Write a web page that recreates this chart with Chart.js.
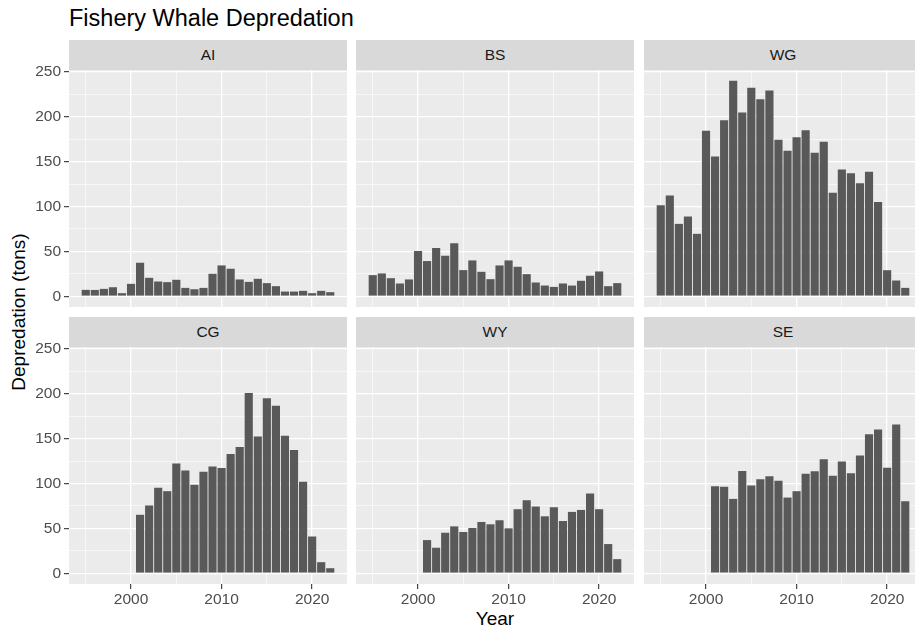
<!DOCTYPE html>
<html lang="en">
<head>
    <meta charset="UTF-8">
    <title>Fishery Whale Depredation</title>
    <script src="https://cdn.jsdelivr.net/npm/chart.js"></script>
    <style>
        body {
            margin: 0;
            width: 915px;
            height: 630px;
            overflow: hidden;
            position: relative;
            background: #fff;
            font-family: "Liberation Sans", Arial, sans-serif;
        }
        canvas {
            position: absolute;
        }
        .strip {
            position: absolute;
            height: 30px;
            line-height: 30px;
            background: #D9D9D9;
            color: #1A1A1A;
            font-size: 15.5px;
            text-align: center;
        }
        #title {
            position: absolute;
            left: 69px;
            top: 7px;
            font-size: 23.5px;
            line-height: 1;
            color: #000;
        }
        #xtitle {
            position: absolute;
            left: 495px;
            top: 609px;
            transform: translateX(-50%);
            font-size: 19px;
            line-height: 1;
            color: #000;
        }
        #ytitle {
            position: absolute;
            left: 18px;
            top: 312px;
            transform: translate(-50%, -50%) rotate(-90deg);
            font-size: 19px;
            line-height: 1;
            white-space: nowrap;
            color: #000;
        }
    </style>
</head>
<body>
    <div id="title">Fishery Whale Depredation</div>
    <div id="xtitle">Year</div>
    <div id="ytitle">Depredation (tons)</div>

    <script>
        // Years on the x axis
        const years = [1995, 1996, 1997, 1998, 1999, 2000, 2001, 2002, 2003, 2004,
                       2005, 2006, 2007, 2008, 2009, 2010, 2011, 2012, 2013, 2014,
                       2015, 2016, 2017, 2018, 2019, 2020, 2021, 2022];

        // Depredation (tons) per area, one value per year (null = no data)
        const ai = [7.1, 7, 8.2, 10, 3.4, 13.8, 37.3, 20.5, 16.4, 15.7, 18.3, 9.3, 7.8, 9.3,
                    25, 34.3, 30.6, 18.7, 16, 19.4, 14.6, 11.2, 5.2, 5.2, 6, 3.4, 6, 4.5];
        const bs = [23.5, 25.4, 20.1, 14.2, 18.7, 50.4, 39.2, 53.7, 45.1, 59, 29.1, 39.9, 27.2, 19,
                    34.3, 39.9, 32.8, 24.6, 15.3, 11.9, 10.4, 14.2, 11.9, 17.2, 22.8, 27.6, 11.2, 14.6];
        const wg = [101.4, 112.2, 80.6, 88.8, 69.5, 184.2, 155.6, 196.1, 240, 204.7, 232.2, 219.5, 229.2, 174.2,
                    162, 177.2, 185, 159.7, 172, 115.2, 141.2, 137.1, 125.9, 138.6, 105.1, 29, 17.5, 9.3];
        const cg = [null, null, null, null, null, null, 65.1, 75.5, 95.2, 91.4, 122.3, 114.5, 98.5, 113,
                    119, 117.1, 132.7, 140.5, 200.7, 152.4, 194.8, 186.6, 153.2, 137.2, 101.9, 40.9, 12.3, 5.6];
        const wy = [null, null, null, null, null, null, 36.9, 28.4, 45.1, 52.2, 45.9, 50.4, 57.1, 54.5,
                    59, 50, 71.3, 81.3, 74.3, 63.4, 73.5, 58.2, 68.3, 70.5, 88.8, 71.3, 32.5, 15.7];
        const se = [null, null, null, null, null, null, 97, 96.2, 82.8, 114, 97.7, 104.8, 108.1, 102.9,
                    84.3, 91.4, 110.7, 113.7, 127, 108.5, 124.4, 111.4, 131.1, 154.9, 160.1, 117.4, 165.7, 80.2];

        const panelNames = ['AI', 'BS', 'WG', 'CG', 'WY', 'SE'];
        const panelData = [ai, bs, wg, cg, wy, se];

        // Tick values (major ones get labels)
        const xTicks = [1995, 2000, 2005, 2010, 2015, 2020];
        const yTicks = [0, 25, 50, 75, 100, 125, 150, 175, 200, 225, 250];

        // Layout of the facet grid
        const panelX = [69, 356, 644];
        const panelY = [70, 347];
        const panelW = 278;
        const panelH = 237;
        const stripH = 30;
        const yAxisW = 69;
        const xAxisH = 34;
        const pad = 14;

        Chart.defaults.font.family = '"Liberation Sans", Arial, sans-serif';
        Chart.defaults.font.size = 15.5;

        // grey panel background
        const panelBg = {
            id: 'panelBg',
            beforeDraw(chart) {
                const { ctx, chartArea: a } = chart;
                ctx.save();
                ctx.fillStyle = '#EBEBEB';
                ctx.fillRect(a.left, a.top, a.width, a.height);
                ctx.restore();
            }
        };

        panelNames.forEach((name, i) => {
            const col = i % 3;
            const row = Math.floor(i / 3);
            const showY = col === 0;
            const showX = row === 1;
            const yw = showY ? yAxisW : 0;
            const xh = showX ? xAxisH : 0;

            // strip label
            const strip = document.createElement('div');
            strip.className = 'strip';
            strip.style.left = panelX[col] + 'px';
            strip.style.top = (panelY[row] - stripH) + 'px';
            strip.style.width = panelW + 'px';
            strip.textContent = name;
            document.body.appendChild(strip);

            const canvas = document.createElement('canvas');
            const w = yw + panelW;
            const h = pad + panelH + xh + (showX ? 0 : pad);
            canvas.width = w;
            canvas.height = h;
            canvas.style.width = w + 'px';
            canvas.style.height = h + 'px';
            canvas.style.left = (panelX[col] - yw) + 'px';
            canvas.style.top = (panelY[row] - pad) + 'px';
            document.body.appendChild(canvas);

            const values = panelData[i];

            new Chart(canvas.getContext('2d'), {
                type: 'bar',
                data: {
                    datasets: [{
                        data: years.map((y, k) => ({ x: y, y: values[k] })),
                        backgroundColor: '#595959',
                        borderWidth: 0,
                        barPercentage: 0.9,
                        categoryPercentage: 1.0
                    }]
                },
                options: {
                    responsive: false,
                    animation: false,
                    devicePixelRatio: 1,
                    layout: { padding: { top: pad, bottom: showX ? 0 : pad, left: 0, right: 0 } },
                    plugins: {
                        legend: { display: false },
                        tooltip: { enabled: false }
                    },
                    scales: {
                        x: {
                            type: 'linear',
                            min: 1993.15,
                            max: 2023.85,
                            offset: false,
                            afterBuildTicks: s => { s.ticks = xTicks.map(v => ({ value: v })); },
                            afterFit: s => { s.height = xh; },
                            border: { display: false },
                            grid: {
                                offset: false,
                                color: '#FFFFFF',
                                lineWidth: c => (c.tick && c.tick.value % 10 === 0) ? 1.3 : 0.6,
                                drawTicks: showX,
                                tickLength: 5,
                                tickWidth: 1.1,
                                tickColor: c => (c.tick && c.tick.value % 10 === 0) ? '#333333' : 'rgba(0,0,0,0)'
                            },
                            ticks: {
                                display: showX,
                                autoSkip: false,
                                maxRotation: 0,
                                minRotation: 0,
                                padding: 1,
                                color: '#4D4D4D',
                                callback: v => (v % 10 === 0 ? String(v) : '')
                            }
                        },
                        y: {
                            min: -12,
                            max: 252,
                            afterBuildTicks: s => { s.ticks = yTicks.map(v => ({ value: v })); },
                            afterFit: s => { s.width = yw; },
                            border: { display: false },
                            grid: {
                                color: '#FFFFFF',
                                lineWidth: c => (c.tick && c.tick.value % 50 === 0) ? 1.3 : 0.6,
                                drawTicks: showY,
                                tickLength: 5,
                                tickWidth: 1.1,
                                tickColor: c => (c.tick && c.tick.value % 50 === 0) ? '#333333' : 'rgba(0,0,0,0)'
                            },
                            ticks: {
                                display: showY,
                                autoSkip: false,
                                padding: 3,
                                color: '#4D4D4D',
                                callback: v => (v % 50 === 0 ? String(v) : '')
                            }
                        }
                    }
                },
                plugins: [panelBg]
            });
        });
    </script>
</body>
</html>
